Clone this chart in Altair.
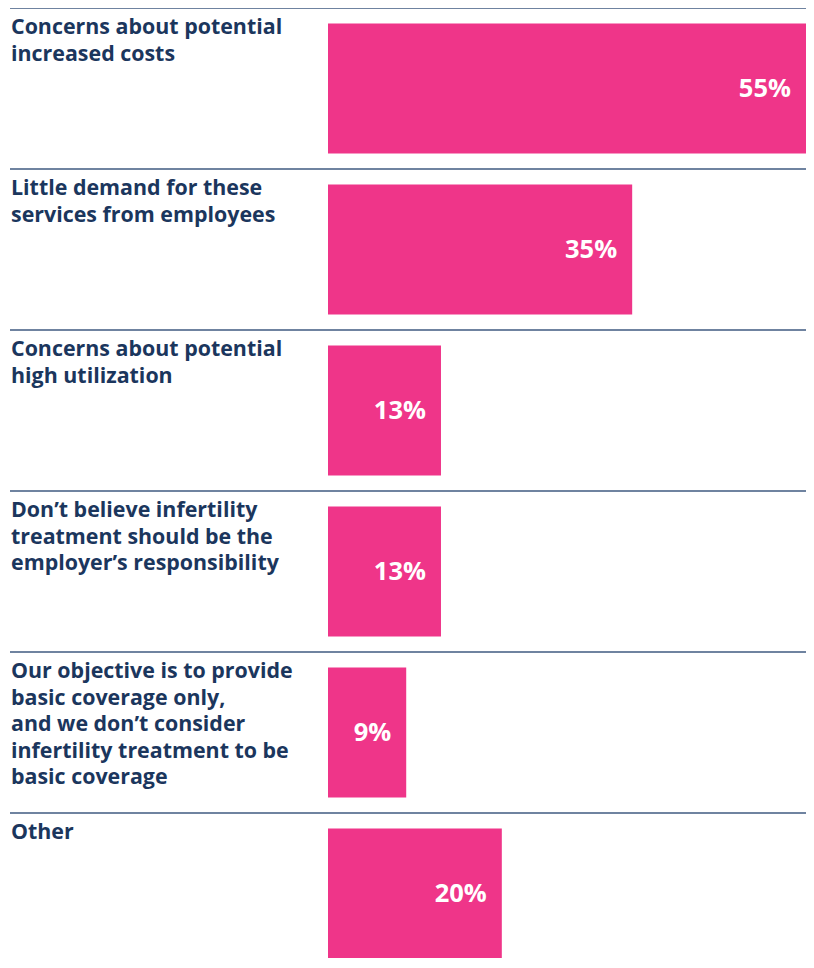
import altair as alt
import pandas as pd

labels = [
    "Concerns about potential\nincreased costs",
    "Little demand for these\nservices from employees",
    "Concerns about potential\nhigh utilization",
    "Don’t believe infertility\ntreatment should be the\nemployer’s responsibility",
    "Our objective is to provide\nbasic coverage only,\nand we don’t consider\ninfertility treatment to be\nbasic coverage",
    "Other",
]
values = [55, 35, 13, 13, 9, 20]
value_text = ["55%", "35%", "13%", "13%", "9%", "20%"]

PINK = "#EF3589"
NAVY = "#1B365D"
RULE = "#3F5A80"
FONT = "Open Sans"

df = pd.DataFrame({"label": labels, "value": values, "text": value_text})

ROW = 161
yenc = alt.Y(
    "label:N",
    sort=labels,
    axis=None,
    scale=alt.Scale(range=[0, ROW * 6], paddingInner=31 / ROW, paddingOuter=15.5 / ROW),
)
xscale = alt.Scale(domain=[0, 55], range=[318, 796], nice=False, zero=True)

base = alt.Chart(df)

rules = base.mark_rule(color=RULE, strokeWidth=1.5, yOffset=-ROW / 2).encode(
    y=yenc, x=alt.value(0), x2=alt.value(796)
)

bars = base.mark_bar(color=PINK).encode(
    y=yenc, x=alt.X("value:Q", scale=xscale, axis=None)
)

vals = base.mark_text(
    align="right", baseline="middle", dx=-15, color="white",
    font=FONT, fontWeight="bold", fontSize=25.5,
).encode(y=yenc, x=alt.X("value:Q", scale=xscale, axis=None), text="text:N")

names = base.mark_text(
    align="left", baseline="top", color=NAVY, font=FONT, fontWeight="bold",
    fontSize=21.4, lineHeight=26.5, lineBreak="\n", yOffset=-ROW / 2 + 9,
).encode(y=yenc, x=alt.value(1), text="label:N")

chart = (
    alt.layer(rules, bars, vals, names)
    .properties(
        width=796, height=950,
        autosize=alt.AutoSizeParams(type="none"),
        padding={"left": 2, "top": 0, "right": 0, "bottom": 0},
    )
    .configure_view(stroke=None)
)

chart.save("out.html", embed_options={"renderer": "svg", "actions": False})
